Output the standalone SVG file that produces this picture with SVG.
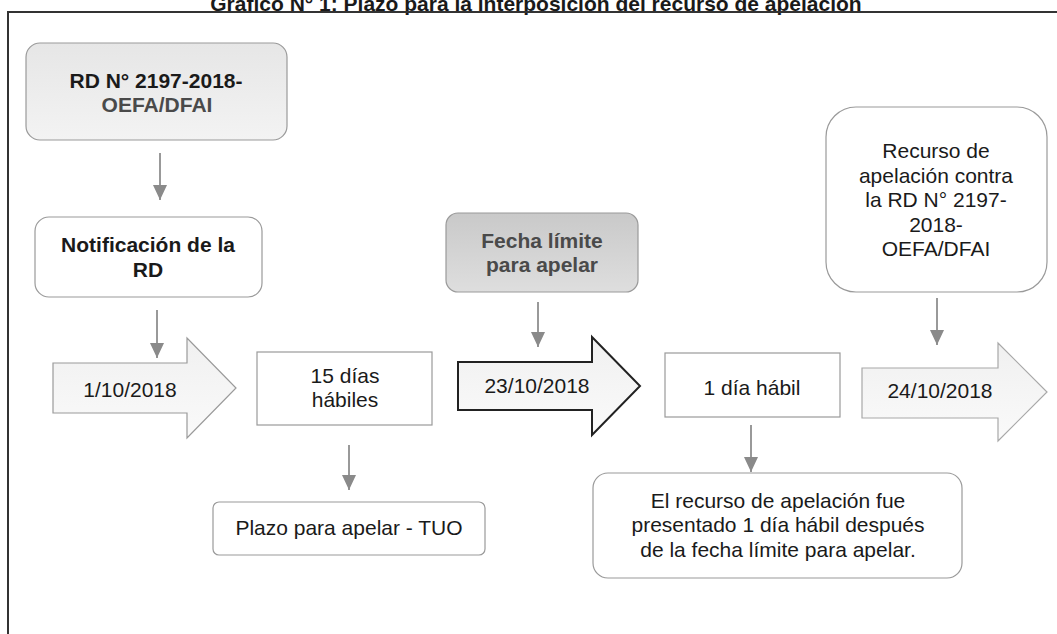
<svg xmlns="http://www.w3.org/2000/svg" width="1057" height="634" viewBox="0 0 1057 634">
<defs>
<style>
text{font-family:"Liberation Sans",Arial,sans-serif;fill:#1a1a1a;text-anchor:middle}
.b{font-weight:bold}
.r{font-size:21px}
.box{fill:#fff;stroke:#9a9a9a;stroke-width:1.2}
.conn{stroke:#555;stroke-width:1.2;fill:none;marker-end:url(#ah)}
.grey{fill:#4a4a4a}
</style>
<linearGradient id="g1" x1="0" y1="0" x2="0" y2="1"><stop offset="0" stop-color="#e6e6e6"/><stop offset="1" stop-color="#f3f3f3"/></linearGradient>
<linearGradient id="g2" x1="0" y1="0" x2="0" y2="1"><stop offset="0" stop-color="#c9c9c9"/><stop offset="1" stop-color="#dedede"/></linearGradient>
<linearGradient id="g3" x1="0" y1="0" x2="0" y2="1"><stop offset="0" stop-color="#f0f0f0"/><stop offset="1" stop-color="#fafafa"/></linearGradient>
<marker id="ah" markerUnits="userSpaceOnUse" markerWidth="16" markerHeight="16" refX="15" refY="7" orient="auto" viewBox="0 0 16 16">
<path d="M0,0 L15,7 L0,14 z" fill="#8a8a8a"/>
</marker>
</defs>
<rect width="1057" height="634" fill="#fff"/>
<text x="536" y="11" class="b" font-size="21">Gráfico N° 1: Plazo para la interposición del recurso de apelación</text>
<path d="M1060,12 L8,12 L8,640" fill="none" stroke="#333" stroke-width="2"/>

<g id="connectors">
<path class="conn" d="M160,153 L160,200"/>
<path class="conn" d="M157,310 L157,358"/>
<path class="conn" d="M349,445 L349,490"/>
<path class="conn" d="M538,302 L538,347"/>
<path class="conn" d="M751,425 L751,472"/>
<path class="conn" d="M937,298 L937,345"/>
</g>

<g id="rd">
<rect x="26" y="43" width="261" height="97" rx="14" fill="url(#g1)" stroke="#9a9a9a" stroke-width="1.2"/>
<text x="156" y="88" class="b r">RD N° 2197-2018-</text>
<text x="157" y="112" class="b r grey">OEFA/DFAI</text>
</g>

<g id="notificacion">
<rect class="box" x="35" y="217" width="227" height="80" rx="14"/>
<text x="148" y="252" class="b r">Notificación de la</text>
<text x="148" y="277" class="b r">RD</text>
</g>

<g id="fecha-limite">
<rect x="446" y="213" width="192" height="79" rx="12" fill="url(#g2)" stroke="#9a9a9a" stroke-width="1.2"/>
<text x="542" y="248" class="b r grey">Fecha límite</text>
<text x="542" y="272" class="b r grey">para apelar</text>
</g>

<g id="recurso">
<rect class="box" x="826" y="107" width="221" height="185" rx="30"/>
<text x="936" y="158" class="r">Recurso de</text>
<text x="936" y="183" class="r">apelación contra</text>
<text x="936" y="207" class="r">la RD N° 2197-</text>
<text x="936" y="232" class="r">2018-</text>
<text x="936" y="256" class="r">OEFA/DFAI</text>
</g>

<g id="fecha-1">
<path d="M53,363 L187,363 L187,338 L236,388 L187,438 L187,413 L53,413 Z" fill="url(#g3)" stroke="#9a9a9a" stroke-width="1.2"/>
<text x="130" y="397" class="r">1/10/2018</text>
</g>

<g id="quince-dias">
<rect class="box" x="257" y="352" width="175" height="73"/>
<text x="345" y="383" class="r">15 días</text>
<text x="345" y="407" class="r">hábiles</text>
</g>

<g id="fecha-23">
<path d="M458,362 L592,362 L592,337 L640,386 L592,435 L592,410 L458,410 Z" fill="url(#g3)" stroke="#222" stroke-width="2"/>
<text x="537" y="393" class="r">23/10/2018</text>
</g>

<g id="un-dia">
<rect class="box" x="665" y="353" width="175" height="64"/>
<text x="752" y="395" class="r">1 día hábil</text>
</g>

<g id="fecha-24">
<path d="M862,368 L998,368 L998,343 L1047,392 L998,441 L998,418 L862,418 Z" fill="url(#g3)" stroke="#a8a8a8" stroke-width="1.2"/>
<text x="940" y="398" class="r">24/10/2018</text>
</g>

<g id="plazo">
<rect class="box" x="213" y="502" width="272" height="53" rx="6"/>
<text x="349" y="535" class="r">Plazo para apelar - TUO</text>
</g>

<g id="conclusion">
<rect class="box" x="593" y="473" width="369" height="105" rx="15"/>
<text x="778" y="508" class="r">El recurso de apelación fue</text>
<text x="778" y="532" class="r">presentado 1 día hábil después</text>
<text x="778" y="557" class="r">de la fecha límite para apelar.</text>
</g>
</svg>
